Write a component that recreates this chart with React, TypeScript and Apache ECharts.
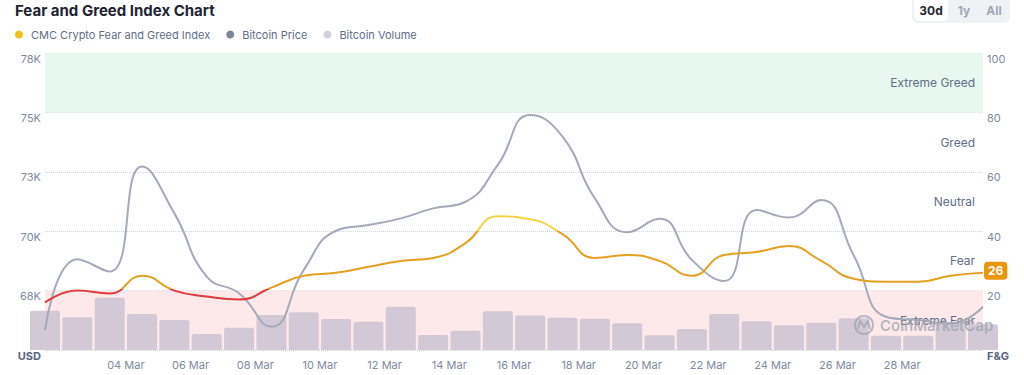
import React, { useEffect, useRef } from "react";
import * as echarts from "echarts";

// ---- data ----
const days = [1, 2, 3, 4, 5, 6, 7, 8, 9, 10, 11, 12, 13, 14, 15, 16, 17, 18, 19, 20, 21, 22, 23, 24, 25, 26, 27, 28, 29, 30];
const fearGreed = [16, 20, 19, 25, 20, 18, 17, 21, 25, 26, 28, 30, 31, 36, 45, 44, 39, 31, 32, 30, 25, 32, 33, 35, 30, 24, 23, 23, 25, 26];
const btcPrice = [65840, 68820, 68300, 72720, 70750, 68090, 67390, 65980, 68370, 70020, 70260, 70540, 70960, 71240, 72790, 74890, 73980, 71380, 69960, 70520, 68790, 67900, 70890, 70580, 71310, 68990, 66400, 66260, 66120, 66820];
const btcVolume = [39.7, 33.0, 52.8, 36.4, 30.3, 16.2, 22.5, 35.4, 38.1, 31.3, 28.6, 43.7, 15.2, 19.5, 39.1, 34.8, 32.6, 31.6, 27.0, 14.8, 21.2, 36.4, 29.0, 24.9, 27.6, 32.0, 14.4, 14.4, 27.0, 26.0];
const xTickDays = [4, 6, 8, 10, 12, 14, 16, 18, 20, 22, 24, 26, 28];
const monthLabel = "Mar";
const zoneNames = ["Extreme Fear", "Fear", "Neutral", "Greed", "Extreme Greed"];
const zoneBounds = [0, 20, 40, 60, 80, 100];
const rangeButtons = ["30d", "1y", "All"];
const seriesNames = ["CMC Crypto Fear and Greed Index", "Bitcoin Price", "Bitcoin Volume"];

const FONT = "Inter, 'Noto Sans', sans-serif";

export default function App() {
  const ref = useRef<HTMLDivElement>(null);

  useEffect(() => {
    document.body.style.margin = "0";
    if (!ref.current) return;
    const chart = echarts.init(ref.current, undefined, { renderer: "svg" });

    const xs = days.map((d) => d + 0.5);
    const fngData = xs.map((x, i) => [x, fearGreed[i]]);
    const priceData = xs.map((x, i) => [x, btcPrice[i]]);
    const volData = xs.map((x, i) => [x, btcVolume[i]]);

    const bandColors: Record<string, string> = {
      "Extreme Fear": "#fde9ea",
      "Extreme Greed": "#e6f8f0",
    };

    const bandAreas = zoneNames
      .map((n, i) => ({ n, i }))
      .filter((z) => bandColors[z.n])
      .map((z) => [
        { yAxis: zoneBounds[z.i], itemStyle: { color: bandColors[z.n] } },
        { yAxis: zoneBounds[z.i + 1] },
      ]);

    const labelAreas = zoneNames.map((n, i) => [
      { name: n, yAxis: zoneBounds[i], itemStyle: { color: "rgba(0,0,0,0)" } },
      { yAxis: zoneBounds[i + 1] },
    ]);

    const btnX = [931, 964, 994];
    const wm = "rgba(160,164,176,0.75)";

    const option: any = {
      animation: false,
      textStyle: { fontFamily: FONT },
      title: {
        text: "Fear and Greed Index Chart",
        left: 15,
        top: 3,
        padding: 0,
        textStyle: { fontSize: 15, fontWeight: "bold", color: "#222531", fontFamily: FONT },
      },
      legend: {
        left: 15,
        top: 29,
        padding: 0,
        icon: "circle",
        itemWidth: 8,
        itemHeight: 8,
        itemGap: 16,
        textStyle: { fontSize: 11, color: "#616e85", padding: [0, 0, 0, 3], fontFamily: FONT },
        data: [
          { name: seriesNames[0], itemStyle: { color: "#f2c21b" } },
          { name: seriesNames[1], itemStyle: { color: "#7d8598" } },
          { name: seriesNames[2], itemStyle: { color: "#cfd3dd" } },
        ],
      },
      grid: { left: 45, right: 41, top: 53, bottom: 25 },
      xAxis: {
        type: "value",
        min: 1.5,
        max: 30.5,
        axisLine: { show: false },
        axisTick: { show: false },
        splitLine: { show: false },
        axisLabel: {
          customValues: xTickDays,
          formatter: (v: number) => (v < 10 ? "0" : "") + v + " " + monthLabel,
          color: "#808a9d",
          fontSize: 11,
          margin: 9,
        },
      },
      yAxis: [
        {
          type: "value",
          position: "left",
          min: 65000,
          max: 77500,
          interval: 2500,
          axisLine: { show: false },
          axisTick: { show: false },
          splitLine: { show: true, lineStyle: { type: "dotted", color: "#cfd4db" } },
          axisLabel: {
            formatter: (v: number) => (v === 65000 ? "{b|USD}" : Math.round(v / 1000) + "K"),
            color: "#808a9d",
            fontSize: 11,
            margin: 4,
            verticalAlign: "top",
            rich: { b: { fontWeight: "bold", color: "#58667e", fontSize: 11 } },
          },
        },
        {
          type: "value",
          position: "right",
          min: 0,
          max: 100,
          interval: 20,
          axisLine: { show: false },
          axisTick: { show: false },
          splitLine: { show: false },
          axisLabel: {
            formatter: (v: number) => (v === 0 ? "{b|F&G}" : String(v)),
            color: "#808a9d",
            fontSize: 11,
            margin: 4,
            verticalAlign: "top",
            rich: { b: { fontWeight: "bold", color: "#58667e", fontSize: 11 } },
          },
        },
        { type: "value", show: false, min: 0, max: 300 },
      ],
      visualMap: {
        type: "piecewise",
        show: false,
        seriesIndex: 3,
        dimension: 1,
        pieces: [
          { lt: 20.5, color: "#df3a3d" },
          { gte: 20.5, lt: 40, color: "#e5a021" },
          { gte: 40, color: "#f3d544" },
        ],
      },
      series: [
        {
          name: "bands",
          type: "line",
          yAxisIndex: 1,
          data: fngData,
          z: 1,
          silent: true,
          showSymbol: false,
          lineStyle: { opacity: 0 },
          markArea: { silent: true, data: bandAreas },
        },
        {
          name: seriesNames[2],
          type: "bar",
          yAxisIndex: 2,
          data: volData,
          barWidth: 30,
          z: 2,
          itemStyle: { color: "#d3c8d6", borderRadius: [2, 2, 0, 0] },
        },
        {
          name: seriesNames[1],
          type: "line",
          yAxisIndex: 0,
          data: priceData,
          smooth: 0.5,
          showSymbol: false,
          z: 3,
          itemStyle: { color: "#a5aabb" },
          lineStyle: { color: "#a5aabb", width: 2 },
        },
        {
          name: seriesNames[0],
          type: "line",
          yAxisIndex: 1,
          data: fngData,
          smooth: 0.5,
          showSymbol: false,
          z: 4,
          lineStyle: { width: 2 },
          endLabel: {
            show: true,
            formatter: (p: any) => String(p.value[1]),
            distance: 1,
            offset: [0, -2],
            color: "#ffffff",
            backgroundColor: "#e8960e",
            borderRadius: 4,
            padding: [3, 4, 3, 4],
            fontSize: 12,
            fontWeight: "bold",
          },
        },
        {
          name: "zoneLabels",
          type: "line",
          yAxisIndex: 1,
          data: fngData,
          z: 6,
          silent: true,
          showSymbol: false,
          lineStyle: { opacity: 0 },
          markArea: {
            silent: true,
            data: labelAreas,
            label: {
              show: true,
              position: "insideRight",
              distance: 8,
              color: "#616e85",
              fontSize: 12,
              fontFamily: FONT,
            },
          },
        },
      ],
      graphic: [
        { type: "circle", z: 5, silent: true, shape: { cx: 864, cy: 325, r: 9 }, style: { fill: "none", stroke: wm, lineWidth: 2 } },
        {
          type: "polyline",
          z: 5,
          silent: true,
          shape: { points: [[858, 329], [860, 321], [864, 327], [868, 321], [870, 329]] },
          style: { fill: "none", stroke: wm, lineWidth: 2 },
        },
        {
          type: "text",
          z: 5,
          silent: true,
          x: 880,
          y: 325,
          style: { text: "CoinMarketCap", fill: wm, fontSize: 15, fontWeight: 600, fontFamily: FONT, verticalAlign: "middle" },
        },
        { type: "rect", shape: { x: 912, y: -4, width: 98, height: 27, r: 6 }, style: { fill: "#eff2f5" } },
        { type: "rect", shape: { x: 914, y: -2, width: 34, height: 23, r: 5 }, style: { fill: "#ffffff" } },
        ...rangeButtons.map((b, i) => ({
          type: "text",
          x: btnX[i],
          y: 10,
          style: {
            text: b,
            fill: i === 0 ? "#222531" : "#a1a7b8",
            fontSize: 12,
            fontWeight: "bold",
            fontFamily: FONT,
            align: "center",
            verticalAlign: "middle",
          },
        })),
      ],
    };

    chart.setOption(option);
    return () => chart.dispose();
  }, []);

  return <div ref={ref} style={{ width: 1024, height: 375 }} />;
}
